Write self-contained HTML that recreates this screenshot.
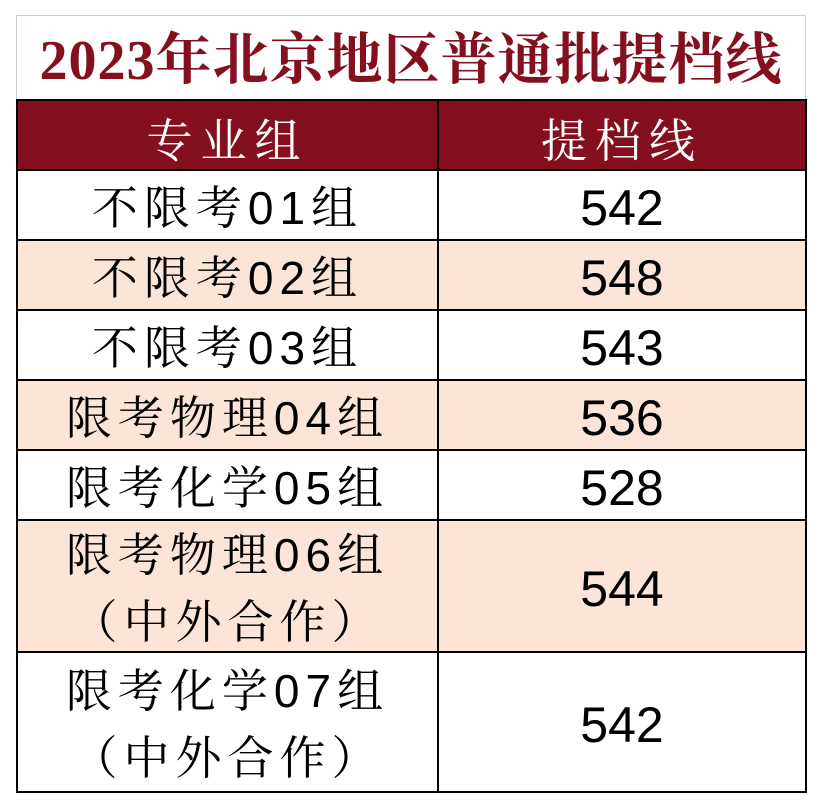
<!DOCTYPE html>
<html><head><meta charset="utf-8"><style>
body{margin:0;width:822px;height:808px;background:#fff;position:relative;overflow:hidden}
.t{position:absolute;left:16px;top:15px;width:790px;height:85px;border:1px solid #c8d0e0;border-bottom:none;box-sizing:border-box;text-align:center;line-height:96px;font:bold 56px "Liberation Serif","Noto Serif CJK SC",serif;color:#85101d;letter-spacing:1px;white-space:nowrap}
.r{position:absolute;left:16px;width:791px;box-sizing:border-box;border:2px solid #000;border-top:none;display:flex}
.c1{width:421px;border-right:2px solid #000;display:flex;align-items:center;justify-content:center;text-align:center;font:46px "Liberation Sans","Noto Serif CJK SC",serif;letter-spacing:6px;line-height:67px;padding-top:6px;box-sizing:border-box;white-space:nowrap}
.c2{flex:1;display:flex;align-items:center;justify-content:center;font:50px "Liberation Sans",sans-serif;padding-top:6px}
.h{background:#85101d;color:#fff;border-top:2px solid #000}
.h .c1,.h .c2{font:46px "Liberation Serif","Noto Serif CJK SC",serif;letter-spacing:8px;color:#fff}
.p{background:#fce4d6}
</style></head><body>
<div class="t">2023年北京地区普通批提档线</div>
<div class="r h" style="top:99px;height:72px"><div class="c1">专业组</div><div class="c2">提档线</div></div>
<div class="r" style="top:171px;height:70px"><div class="c1">不限考01组</div><div class="c2">542</div></div>
<div class="r p" style="top:241px;height:70px"><div class="c1">不限考02组</div><div class="c2">548</div></div>
<div class="r" style="top:311px;height:70px"><div class="c1">不限考03组</div><div class="c2">543</div></div>
<div class="r p" style="top:381px;height:70px"><div class="c1">限考物理04组</div><div class="c2">536</div></div>
<div class="r" style="top:451px;height:70px"><div class="c1">限考化学05组</div><div class="c2">528</div></div>
<div class="r p" style="top:521px;height:132px"><div class="c1">限考物理06组<br>（中外合作）</div><div class="c2">544</div></div>
<div class="r" style="top:653px;height:140px"><div class="c1">限考化学07组<br>（中外合作）</div><div class="c2">542</div></div>
</body></html>
